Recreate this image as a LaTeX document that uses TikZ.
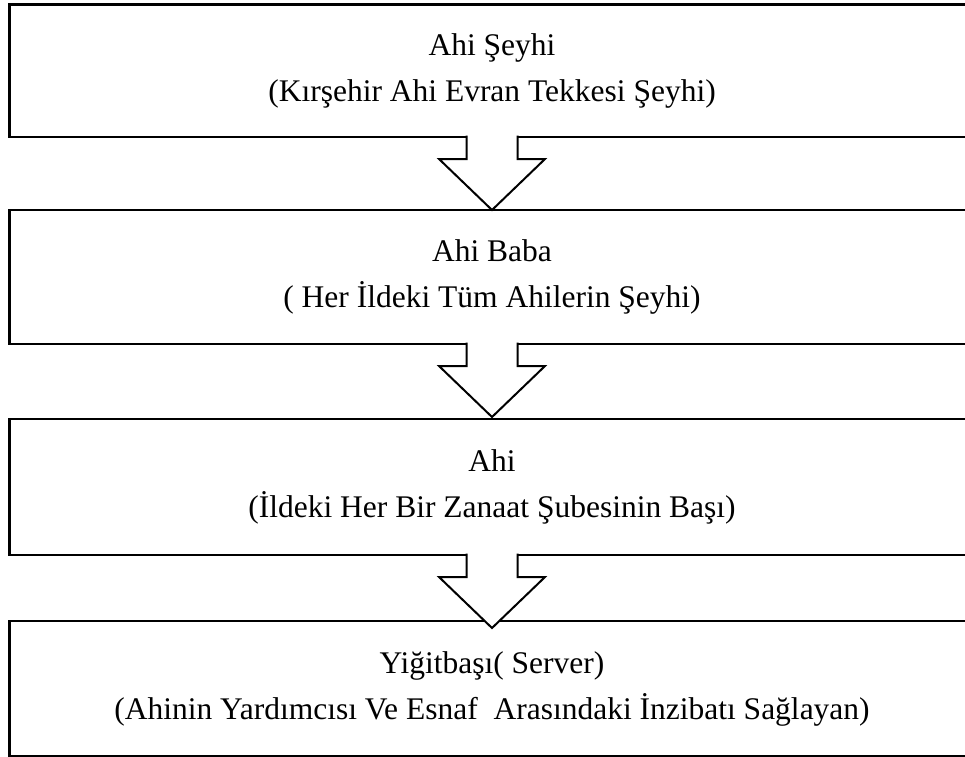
\documentclass[tikz,border=0pt]{standalone}
\usepackage{fontspec}
\setmainfont{Liberation Serif}
\usetikzlibrary{shapes, calc, math}

\tikzset{
  stage/.style={draw, line width=2.5pt, minimum width=965pt, inner sep=0pt, outer sep=0pt,
    align=center, anchor=north, font={\fontsize{31.5}{46}\selectfont}},
  blockarrow/.style={draw, fill=white, line width=2pt}
}

% hollow arrow hanging under a box
\newcommand{\downblock}[1]{%
  \draw[blockarrow] (#1.south) ++(-\sw,-1.5) -- ++(0,\sh+1.5) -- ++(\sw-\hw,0)
    -- ++(\hw,\tip) -- ++(\hw,-\tip) -- ++(\sw-\hw,0) -- ++(0,-\sh-1.5);}

\begin{document}
\begin{tikzpicture}[x=1pt, y=-1pt]

\tikzmath{
			\sw = 25.5; \hw = 53;
			\sh = 22; \tip = 51;
          }

\useasboundingbox (0,0) rectangle (965,756);
\clip (0,0) rectangle (965,756);

\node[stage, minimum height=132.5pt] (seyh) at (492,4.5) {Ahi Şeyhi\\(Kırşehir Ahi Evran Tekkesi Şeyhi)};
\node[stage, minimum height=134pt] (baba) at (492,210) {Ahi Baba\\( Her İldeki Tüm Ahilerin Şeyhi)};
\node[stage, minimum height=136pt] (ahi) at (492,419) {Ahi\\(İldeki Her Bir Zanaat Şubesinin Başı)};
\node[stage, minimum height=135pt] (yigit) at (492,621) {Yiğitbaşı( Server)\\(Ahinin Yardımcısı Ve Esnaf~ Arasındaki İnzibatı Sağlayan)};

\downblock{seyh}
\downblock{baba}
\downblock{ahi}

\end{tikzpicture}
\end{document}
